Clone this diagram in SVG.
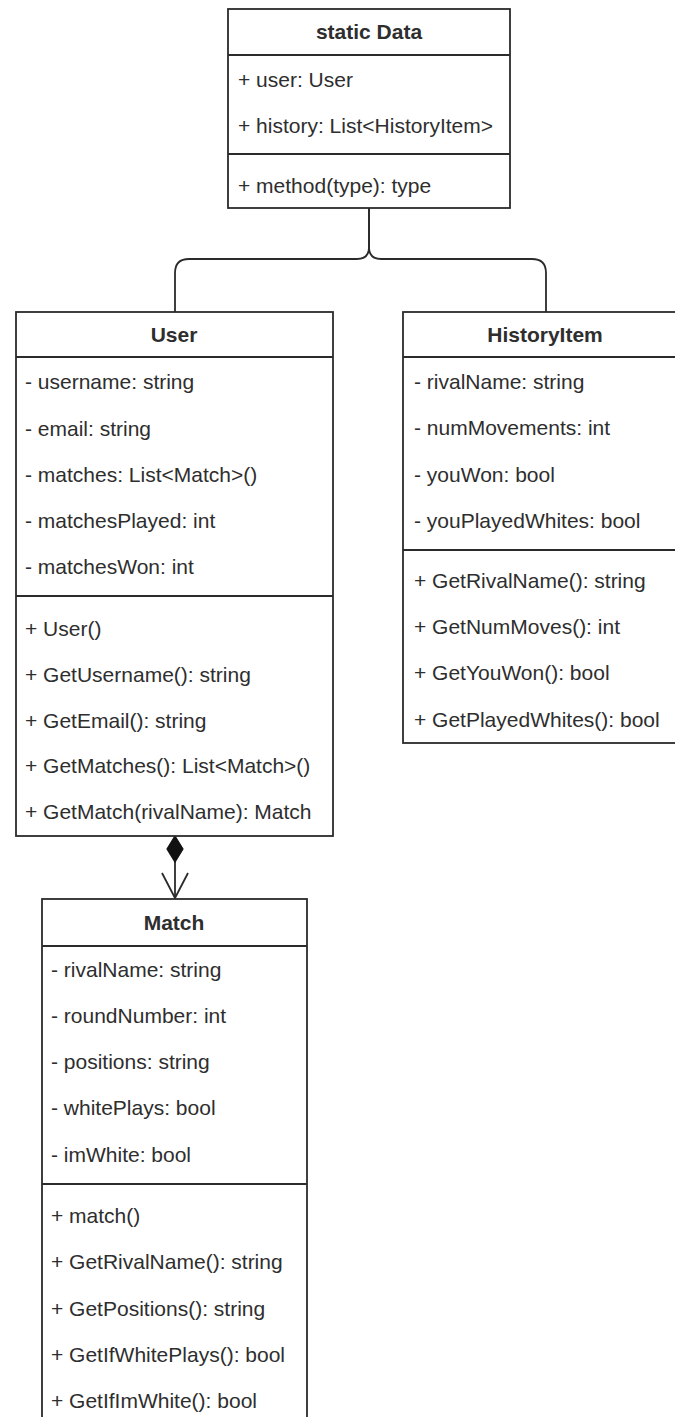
<svg xmlns="http://www.w3.org/2000/svg" width="675" height="1417" viewBox="0 0 675 1417">
  <style>
    .box { fill: #ffffff; stroke: #2b2b2b; stroke-width: 1.8; }
    .sep { stroke: #2b2b2b; stroke-width: 1.8; fill: none; }
    .title { font-family: "Liberation Sans", Arial, sans-serif; font-size: 21px; font-weight: bold; fill: #2e2e2e; text-anchor: middle; }
    .member { font-family: "Liberation Sans", Arial, sans-serif; font-size: 21px; fill: #2e2e2e; }
    .edge { fill: none; stroke: #2b2b2b; stroke-width: 1.8; }
  </style>
  <rect width="675" height="1417" fill="#ffffff"/>

  <!-- connectors -->
  <g id="connectors">
    <path class="edge" d="M369,208 V247 Q369,259 357,259 H189 Q175,259 175,273 V312"/>
    <path class="edge" d="M369,208 V247 Q369,259 381,259 H532 Q546,259 546,273 V312"/>
    <!-- composition: User owns Match -->
    <path class="edge" d="M175,862 V898"/>
    <path d="M175,836 L183,849 L175,862 L167,849 Z" fill="#111111" stroke="#111111" stroke-width="1.2"/>
    <path class="edge" d="M162,873 L175,898 L188,873"/>
  </g>

  <!-- static Data -->
  <g id="node-data">
    <rect class="box" x="228" y="9" width="282" height="199"/>
    <line class="sep" x1="228" y1="55" x2="510" y2="55"/>
    <line class="sep" x1="228" y1="154" x2="510" y2="154"/>
    <text class="title" x="369" y="39">static Data</text>
    <text class="member" x="238" y="87">+ user: User</text>
    <text class="member" x="238" y="133">+ history: List&lt;HistoryItem&gt;</text>
    <text class="member" x="238" y="193">+ method(type): type</text>
  </g>

  <!-- User -->
  <g id="node-user">
    <rect class="box" x="16" y="312" width="317" height="524"/>
    <line class="sep" x1="16" y1="357" x2="333" y2="357"/>
    <line class="sep" x1="16" y1="596" x2="333" y2="596"/>
    <text class="title" x="174" y="342">User</text>
    <text class="member" x="25" y="389">- username: string</text>
    <text class="member" x="25" y="436">- email: string</text>
    <text class="member" x="25" y="482">- matches: List&lt;Match&gt;()</text>
    <text class="member" x="25" y="528">- matchesPlayed: int</text>
    <text class="member" x="25" y="574">- matchesWon: int</text>
    <text class="member" x="25" y="636">+ User()</text>
    <text class="member" x="25" y="682">+ GetUsername(): string</text>
    <text class="member" x="25" y="728">+ GetEmail(): string</text>
    <text class="member" x="25" y="773">+ GetMatches(): List&lt;Match&gt;()</text>
    <text class="member" x="25" y="819">+ GetMatch(rivalName): Match</text>
  </g>

  <!-- HistoryItem -->
  <g id="node-historyitem">
    <rect class="box" x="403" y="312" width="284" height="431"/>
    <line class="sep" x1="403" y1="357" x2="687" y2="357"/>
    <line class="sep" x1="403" y1="550" x2="687" y2="550"/>
    <text class="title" x="545" y="342">HistoryItem</text>
    <text class="member" x="414" y="389">- rivalName: string</text>
    <text class="member" x="414" y="435">- numMovements: int</text>
    <text class="member" x="414" y="482">- youWon: bool</text>
    <text class="member" x="414" y="528">- youPlayedWhites: bool</text>
    <text class="member" x="414" y="588">+ GetRivalName(): string</text>
    <text class="member" x="414" y="634">+ GetNumMoves(): int</text>
    <text class="member" x="414" y="680">+ GetYouWon(): bool</text>
    <text class="member" x="414" y="727">+ GetPlayedWhites(): bool</text>
  </g>

  <!-- Match -->
  <g id="node-match">
    <rect class="box" x="42" y="899" width="265" height="540"/>
    <line class="sep" x1="42" y1="946" x2="307" y2="946"/>
    <line class="sep" x1="42" y1="1184" x2="307" y2="1184"/>
    <text class="title" x="174" y="930">Match</text>
    <text class="member" x="51" y="977">- rivalName: string</text>
    <text class="member" x="51" y="1023">- roundNumber: int</text>
    <text class="member" x="51" y="1069">- positions: string</text>
    <text class="member" x="51" y="1115">- whitePlays: bool</text>
    <text class="member" x="51" y="1162">- imWhite: bool</text>
    <text class="member" x="51" y="1223">+ match()</text>
    <text class="member" x="51" y="1269">+ GetRivalName(): string</text>
    <text class="member" x="51" y="1316">+ GetPositions(): string</text>
    <text class="member" x="51" y="1362">+ GetIfWhitePlays(): bool</text>
    <text class="member" x="51" y="1408">+ GetIfImWhite(): bool</text>
  </g>
</svg>
